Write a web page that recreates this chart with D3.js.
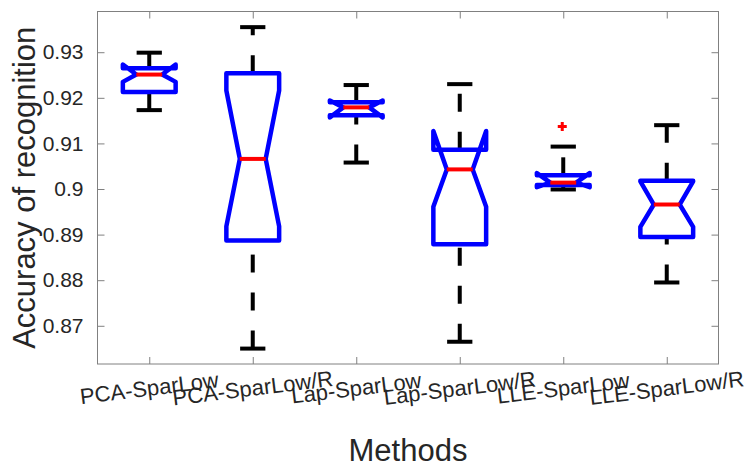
<!DOCTYPE html>
<html>
<head>
<meta charset="utf-8">
<script src="https://cdn.jsdelivr.net/npm/d3@7"></script>
<style>
  html, body { margin: 0; padding: 0; background: #fff; }
  svg { display: block; font-family: "Liberation Sans", Arial, Helvetica, sans-serif; }
</style>
</head>
<body>
<svg id="chart" width="748" height="468"></svg>
<script>
// ---- data ----
const categories = ["PCA-SparLow", "PCA-SparLow/R", "Lap-SparLow", "Lap-SparLow/R", "LLE-SparLow", "LLE-SparLow/R"];
const upperAdjacent = [0.9299, 0.9355, 0.9228, 0.9230, 0.9093, 0.9140];
const q3Values      = [0.9265, 0.9254, 0.9190, 0.9086, 0.9030, 0.9018];
const notchHigh     = [0.9273, 0.9216, 0.9194, 0.9127, 0.9035, 0.9017];
const medianValues  = [0.9251, 0.9066, 0.9179, 0.9043, 0.9014, 0.8966];
const notchLow      = [0.9235, 0.8918, 0.9157, 0.8961, 0.9004, 0.8917];
const q1Values      = [0.9213, 0.8887, 0.9162, 0.8879, 0.9009, 0.8895];
const lowerAdjacent = [0.9173, 0.8650, 0.9058, 0.8665, 0.8999, 0.8795];
const outlierCategories = ["LLE-SparLow"];
const outlierValues     = [0.9137];
const yTickValues = [0.87, 0.88, 0.89, 0.90, 0.91, 0.92, 0.93];
const yTickLabels = ["0.87", "0.88", "0.89", "0.9", "0.91", "0.92", "0.93"];
const xAxisTitle = "Methods";
const yAxisTitle = "Accuracy of recognition";

// ---- layout ----
const svg = d3.select("#chart");
const plot = { left: 97.5, right: 718.5, top: 11.5, bottom: 364 };
const axisColor = "#808080";
const textColor = "#262626";

const x = d3.scalePoint().domain(categories).range([plot.left, plot.right]).padding(0.5);
const y = d3.scaleLinear().domain([0.86162, 0.93893]).range([plot.bottom, plot.top]);
const step = x.step();
const halfBox = step * 0.255;
const halfInner = step * 0.125;
const halfCap = step * 0.122;

const boxes = categories.map((c, i) => ({
  cat: c, up: upperAdjacent[i], q3: q3Values[i], nhi: notchHigh[i],
  med: medianValues[i], nlo: notchLow[i], q1: q1Values[i], lo: lowerAdjacent[i]
}));

// ---- axes frame ----
const g = svg.append("g");
g.append("rect")
  .attr("x", plot.left).attr("y", plot.top)
  .attr("width", plot.right - plot.left).attr("height", plot.bottom - plot.top)
  .attr("fill", "#fff").attr("stroke", axisColor).attr("stroke-width", 1);

const tickLen = 7;
// left axis
const yAxisL = d3.axisLeft(y).tickValues(yTickValues).tickSize(-tickLen).tickPadding(tickLen + 7)
  .tickFormat((d, i) => yTickLabels[i]);
const gyl = g.append("g").attr("transform", `translate(${plot.left},0)`).call(yAxisL);
gyl.select(".domain").remove();
gyl.selectAll(".tick line").attr("stroke", axisColor);
gyl.selectAll(".tick text").attr("fill", textColor).style("font-size", "21px");

// right axis ticks (mirrored)
const yAxisR = d3.axisRight(y).tickValues(yTickValues).tickSize(-tickLen).tickFormat("");
const gyr = g.append("g").attr("transform", `translate(${plot.right},0)`).call(yAxisR);
gyr.select(".domain").remove();
gyr.selectAll(".tick line").attr("stroke", axisColor);

// bottom axis
const xAxisB = d3.axisBottom(x).tickSize(-tickLen).tickFormat("");
const gxb = g.append("g").attr("transform", `translate(0,${plot.bottom})`).call(xAxisB);
gxb.select(".domain").remove();
gxb.selectAll(".tick line").attr("stroke", axisColor);
// top axis ticks
const xAxisT = d3.axisTop(x).tickSize(-tickLen).tickFormat("");
const gxt = g.append("g").attr("transform", `translate(0,${plot.top})`).call(xAxisT);
gxt.select(".domain").remove();
gxt.selectAll(".tick line").attr("stroke", axisColor);

// rotated category labels
g.append("g").selectAll("text").data(categories).join("text")
  .attr("transform", d => `translate(${x(d)},388) rotate(-7)`)
  .attr("text-anchor", "middle").attr("dy", "0.35em")
  .attr("fill", textColor).style("font-size", "22px")
  .text(d => d);

// axis titles
svg.append("text")
  .attr("x", (plot.left + plot.right) / 2).attr("y", 461)
  .attr("text-anchor", "middle").attr("fill", textColor).style("font-size", "31px")
  .text(xAxisTitle);
svg.append("text")
  .attr("transform", `translate(35,${(plot.top + plot.bottom) / 2}) rotate(-90)`)
  .attr("text-anchor", "middle").attr("fill", textColor).style("font-size", "31px")
  .text(yAxisTitle);

// ---- boxplots ----
const bp = g.append("g");
const dash = "18 20";

// whiskers (dashed)
bp.selectAll("line.wup").data(boxes).join("line").attr("class", "wup")
  .attr("x1", d => x(d.cat)).attr("x2", d => x(d.cat))
  .attr("y1", d => y(d.q3)).attr("y2", d => y(d.up))
  .attr("stroke", "#000").attr("stroke-width", 4).attr("stroke-dasharray", dash);
bp.selectAll("line.wlo").data(boxes).join("line").attr("class", "wlo")
  .attr("x1", d => x(d.cat)).attr("x2", d => x(d.cat))
  .attr("y1", d => y(d.lo)).attr("y2", d => y(d.q1))
  .attr("stroke", "#000").attr("stroke-width", 4).attr("stroke-dasharray", dash);

// adjacent value caps
bp.selectAll("line.cup").data(boxes).join("line").attr("class", "cup")
  .attr("x1", d => x(d.cat) - halfCap).attr("x2", d => x(d.cat) + halfCap)
  .attr("y1", d => y(d.up)).attr("y2", d => y(d.up))
  .attr("stroke", "#000").attr("stroke-width", 4);
bp.selectAll("line.clo").data(boxes).join("line").attr("class", "clo")
  .attr("x1", d => x(d.cat) - halfCap).attr("x2", d => x(d.cat) + halfCap)
  .attr("y1", d => y(d.lo)).attr("y2", d => y(d.lo))
  .attr("stroke", "#000").attr("stroke-width", 4);

// notched boxes
const line = d3.line();
bp.selectAll("path.box").data(boxes).join("path").attr("class", "box")
  .attr("d", d => {
    const cx = x(d.cat), xl = cx - halfBox, xr = cx + halfBox, il = cx - halfInner, ir = cx + halfInner;
    return line([
      [xl, y(d.q1)], [xl, y(d.nlo)], [il, y(d.med)], [xl, y(d.nhi)], [xl, y(d.q3)],
      [xr, y(d.q3)], [xr, y(d.nhi)], [ir, y(d.med)], [xr, y(d.nlo)], [xr, y(d.q1)]
    ]) + "Z";
  })
  .attr("fill", "none").attr("stroke", "#0000ff").attr("stroke-width", 4.5)
  .attr("stroke-linejoin", "round");

// medians
bp.selectAll("line.med").data(boxes).join("line").attr("class", "med")
  .attr("x1", d => x(d.cat) - halfInner).attr("x2", d => x(d.cat) + halfInner)
  .attr("y1", d => y(d.med)).attr("y2", d => y(d.med))
  .attr("stroke", "#ff0000").attr("stroke-width", 4);

// outliers
const outliers = outlierCategories.map((c, i) => ({ cat: c, v: outlierValues[i] }));
bp.selectAll("path.out").data(outliers).join("path").attr("class", "out")
  .attr("d", d => {
    const cx = x(d.cat) - 1, cy = y(d.v), s = 4.5;
    return `M${cx - s},${cy}H${cx + s}M${cx},${cy - s}V${cy + s}`;
  })
  .attr("stroke", "#ff0000").attr("stroke-width", 3);
</script>
</body>
</html>
